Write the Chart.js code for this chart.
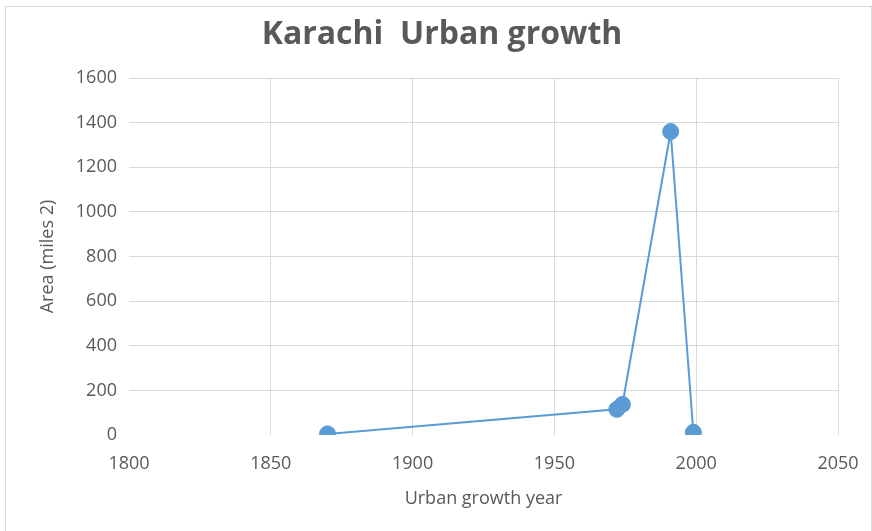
<!DOCTYPE html>
<html>
<head>
<meta charset="utf-8">
<script src="https://cdn.jsdelivr.net/npm/chart.js@4/dist/chart.umd.min.js"></script>
<style>
  html, body { margin: 0; padding: 0; background: #ffffff; }
  #wrap { width: 872px; height: 531px; position: relative; }
</style>
</head>
<body>
<div id="wrap"><canvas id="c" width="872" height="531"></canvas></div>
<script>
const chartTitle = "Karachi  Urban growth";
const xAxisTitle = "Urban growth year";
const yAxisTitle = "Area (miles 2)";
const years = [1870, 1972, 1974, 1991, 1999];
const areas = [5, 115, 137, 1360, 12];
const xTicks = [1800, 1850, 1900, 1950, 2000, 2050];
const yTicks = [0, 200, 400, 600, 800, 1000, 1200, 1400, 1600];

const points = years.map((y, i) => ({ x: y, y: areas[i] }));
const textColor = '#595959';
const gridColor = '#d9d9d9';
const blue = '#5B9BD5';

const frame = {
  id: 'frame',
  beforeDraw(chart) {
    const ctx = chart.ctx;
    ctx.save();
    ctx.fillStyle = '#ffffff';
    ctx.fillRect(0, 0, chart.width, chart.height);
    ctx.strokeStyle = '#d9d9d9';
    ctx.lineWidth = 1;
    ctx.strokeRect(5.5, 6.5, 866, 530);
    ctx.restore();
  },
  afterDraw(chart) {
    const ctx = chart.ctx;
    ctx.save();
    ctx.fillStyle = textColor;
    ctx.font = 'bold 32px "Open Sans"';
    ctx.textAlign = 'center';
    ctx.textBaseline = 'alphabetic';
    ctx.fillText(chartTitle, 442, 44);
    ctx.restore();
  }
};

new Chart(document.getElementById('c'), {
  type: 'scatter',
  data: {
    datasets: [{
      data: points,
      showLine: true,
      borderColor: blue,
      backgroundColor: blue,
      borderWidth: 2,
      pointRadius: 8,
      pointHoverRadius: 8,
      pointBackgroundColor: blue,
      pointBorderColor: blue,
      pointBorderWidth: 1,
      tension: 0
    }]
  },
  options: {
    responsive: false,
    animation: false,
    devicePixelRatio: 1,
    layout: { padding: { top: 78, right: 34, bottom: 0, left: 0 } },
    plugins: {
      legend: { display: false },
      tooltip: { enabled: false },
      title: { display: false }
    },
    scales: {
      x: {
        type: 'linear',
        min: xTicks[0],
        max: xTicks[xTicks.length - 1],
        afterBuildTicks(scale) { scale.ticks = xTicks.map(v => ({ value: v })); },
        afterFit(scale) { scale.height = 96; scale.paddingRight = 0; scale.paddingLeft = 0; },
        border: { display: false },
        grid: {
          color: ctx => (ctx.tick && ctx.tick.value === xTicks[0]) ? 'rgba(0,0,0,0)' : gridColor,
          lineWidth: 1,
          drawTicks: false
        },
        ticks: {
          color: textColor,
          font: { family: 'Open Sans', size: 18 },
          padding: 18,
          maxRotation: 0,
          callback: v => String(v)
        },
        title: {
          display: true,
          text: xAxisTitle,
          color: textColor,
          font: { family: 'Open Sans', size: 18 },
          padding: { top: 0, bottom: 21 }
        }
      },
      y: {
        type: 'linear',
        min: yTicks[0],
        max: yTicks[yTicks.length - 1],
        afterBuildTicks(scale) { scale.ticks = yTicks.map(v => ({ value: v })); },
        afterFit(scale) { scale.width = 129; },
        border: { display: false },
        grid: {
          color: ctx => (ctx.tick && ctx.tick.value === yTicks[0]) ? 'rgba(0,0,0,0)' : gridColor,
          lineWidth: 1,
          drawTicks: false
        },
        ticks: {
          color: textColor,
          font: { family: 'Open Sans', size: 18 },
          padding: 12,
          callback: v => String(v)
        },
        title: {
          display: true,
          text: yAxisTitle,
          color: textColor,
          font: { family: 'Open Sans', size: 18 },
          padding: { top: 37, bottom: 0 }
        }
      }
    }
  },
  plugins: [frame]
});
</script>
</body>
</html>
